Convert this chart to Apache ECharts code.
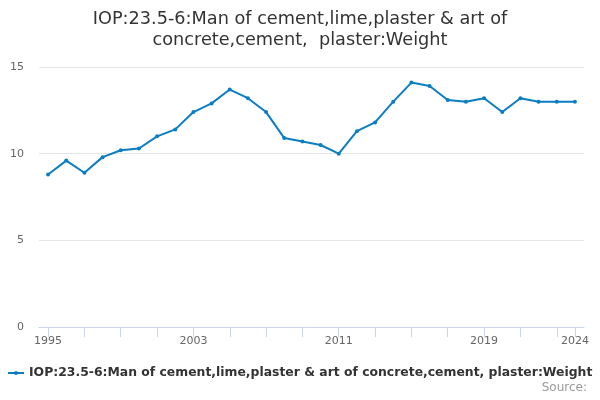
<!DOCTYPE html>
<html>
<head>
<meta charset="utf-8">
<script src="https://cdn.jsdelivr.net/npm/echarts@6/dist/echarts.min.js"></script>
<style>
  html, body { margin: 0; padding: 0; background: #fff; }
  #chart { width: 600px; height: 400px; }
</style>
</head>
<body>
<div id="chart"></div>
<script>
const seriesName = 'IOP:23.5-6:Man of cement,lime,plaster & art of concrete,cement, plaster:Weight';
const years = ['1995', '1996', '1997', '1998', '1999', '2000', '2001', '2002', '2003', '2004',
    '2005', '2006', '2007', '2008', '2009', '2010', '2011', '2012', '2013', '2014',
    '2015', '2016', '2017', '2018', '2019', '2020', '2021', '2022', '2023', '2024'];
const values = [8.8, 9.6, 8.9, 9.8, 10.2, 10.3, 11.0, 11.4, 12.4, 12.9,
    13.7, 13.2, 12.4, 10.9, 10.7, 10.5, 10.0, 11.3, 11.8, 13.0,
    14.1, 13.9, 13.1, 13.0, 13.2, 12.4, 13.2, 13.0, 13.0, 13.0];
const labelYears = ['1995', '2003', '2011', '2019', '2024'];

const lastIdx = years.length - 1;
const font = 'DejaVu Sans';

const chart = echarts.init(document.getElementById('chart'));
const option = {
    animation: false,
    color: ['#0b7dc3'],
    textStyle: { fontFamily: font },
    title: [{
        text: 'IOP:23.5-6:Man of cement,lime,plaster & art of\nconcrete,cement,  plaster:Weight',
        left: 'center',
        top: 4,
        textStyle: {
            fontFamily: font,
            fontSize: 17.7,
            fontWeight: 'normal',
            color: '#333',
            lineHeight: 21
        }
    }, {
        text: 'Source:',
        right: 8,
        bottom: 1,
        textStyle: {
            fontFamily: font,
            fontSize: 12,
            fontWeight: 'normal',
            color: '#999'
        }
    }],
    legend: {
        bottom: 16,
        left: 3,
        itemWidth: 16,
        itemHeight: 4,
        itemGap: 6,
        // line with a dot, like the series marker
        icon: 'path://M0,1 L16,1 L16,3 L0,3 Z M8,0 A2,2 0 1,1 7.99,0 Z',
        textStyle: {
            fontFamily: font,
            fontSize: 12.4,
            fontWeight: 'bold',
            color: '#333'
        },
        data: [seriesName]
    },
    grid: {
        left: 39,
        right: 16,
        top: 67,
        bottom: 73,
        containLabel: false
    },
    xAxis: {
        type: 'category',
        data: years,
        boundaryGap: true,
        axisLine: { lineStyle: { color: '#ccd6eb' } },
        axisTick: {
            show: true,
            alignWithLabel: true,
            length: 10,
            interval: (i) => i % 2 === 0 || i === lastIdx,
            lineStyle: { color: '#ccd6eb' }
        },
        axisLabel: {
            interval: (i, v) => labelYears.includes(v),
            color: '#666',
            fontSize: 11,
            margin: 9
        },
        splitLine: { show: false }
    },
    yAxis: {
        type: 'value',
        min: 0,
        max: 15,
        interval: 5,
        axisLine: { show: false },
        axisTick: { show: false },
        axisLabel: {
            color: '#666',
            fontSize: 11,
            margin: 15
        },
        splitLine: { lineStyle: { color: '#e6e6e6' } }
    },
    series: [{
        name: seriesName,
        type: 'line',
        data: values,
        symbol: 'circle',
        symbolSize: 4,
        lineStyle: { width: 2 },
        itemStyle: { color: '#0b7dc3' }
    }]
};
chart.setOption(option);
</script>
</body>
</html>
